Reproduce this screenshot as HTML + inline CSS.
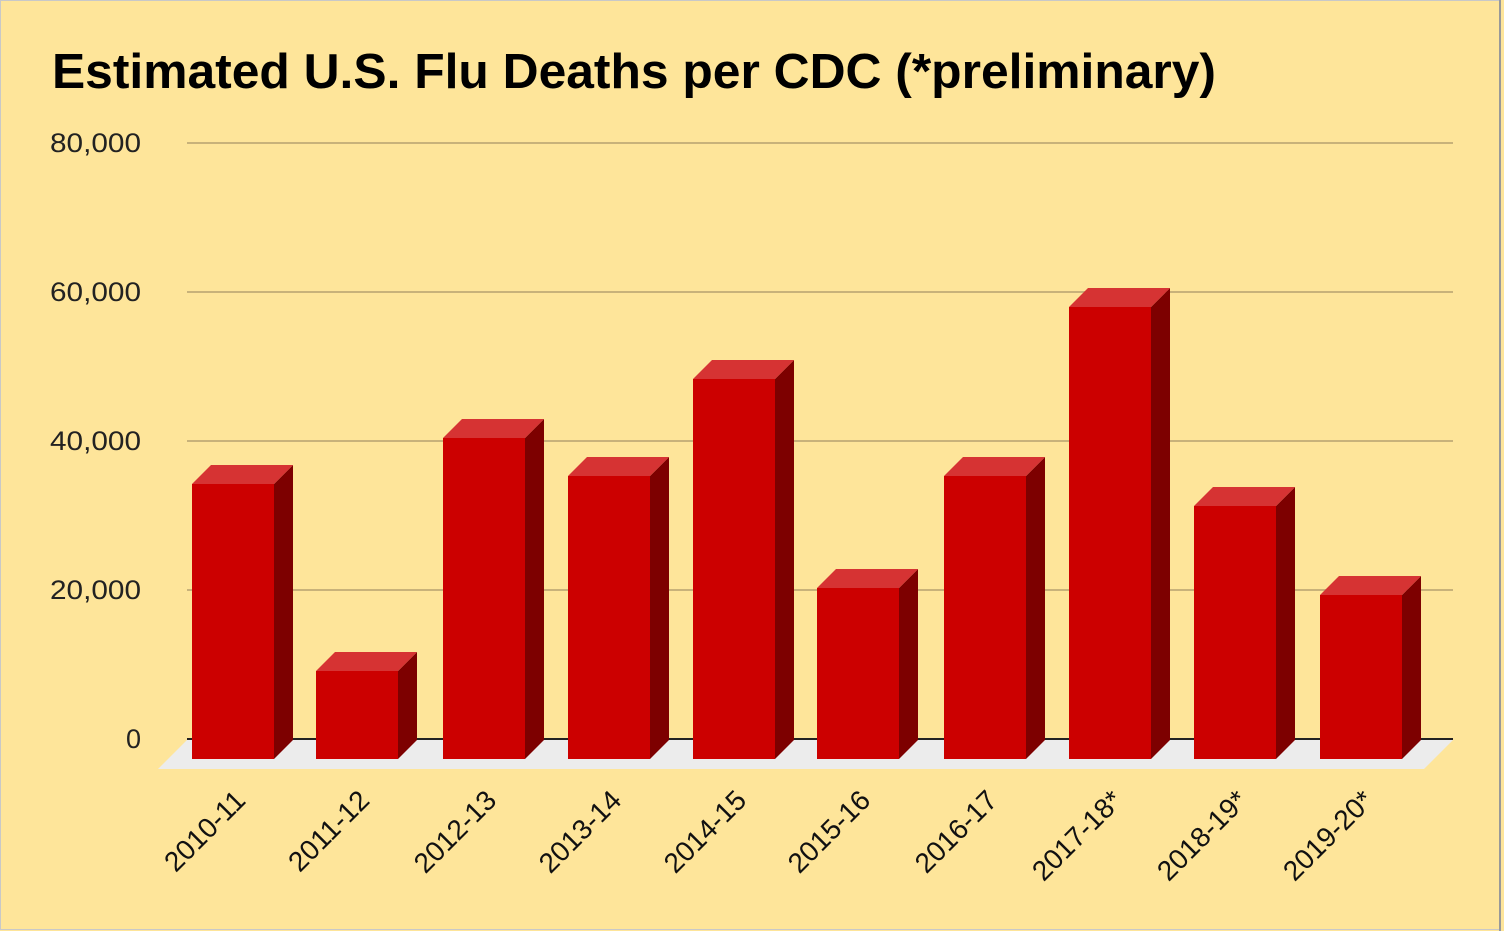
<!DOCTYPE html>
<html><head><style>
body{margin:0;width:1504px;height:931px;overflow:hidden;background:#fff}
</style></head><body>
<svg width="1504" height="931" xmlns="http://www.w3.org/2000/svg" font-family="Liberation Sans, sans-serif">
<rect x="0" y="0" width="1504" height="931" fill="#fee59a"/>
<rect x="0.5" y="0.5" width="1499" height="929" fill="none" stroke="#c8c8c8"/>
<line x1="1500" y1="0" x2="1500" y2="931" stroke="#999" stroke-width="2"/>
<text x="52" y="88" font-weight="bold" fill="#000" textLength="1164" lengthAdjust="spacingAndGlyphs" style="font-size:49px">Estimated U.S. Flu Deaths per CDC (*preliminary)</text>
<g stroke="#c8b27a" stroke-width="2">
<line x1="187" y1="143" x2="1453" y2="143"/>
<line x1="187" y1="292" x2="1453" y2="292"/>
<line x1="187" y1="441" x2="1453" y2="441"/>
<line x1="187" y1="590" x2="1453" y2="590"/>
</g>
<g font-size="27" fill="#222" text-anchor="end">
<text x="141" y="152" textLength="91" lengthAdjust="spacingAndGlyphs">80,000</text>
<text x="141" y="301" textLength="91" lengthAdjust="spacingAndGlyphs">60,000</text>
<text x="141" y="450" textLength="91" lengthAdjust="spacingAndGlyphs">40,000</text>
<text x="141" y="599" textLength="91" lengthAdjust="spacingAndGlyphs">20,000</text>
<text x="141" y="748">0</text>
</g>
<polygon points="187,740 1453,740 1424,769 158,769" fill="#ececec"/>
<line x1="187" y1="739" x2="1453" y2="739" stroke="#222" stroke-width="2"/>
<g id="bars"></g>
<g font-size="28" fill="#111" id="labels"></g>
</svg>
<script>
var xs=[192,316,443,568,693,817,944,1069,1194,1320];
var ts=[484,671,438,476,379,588,476,307,506,595];
var lb=["2010-11","2011-12","2012-13","2013-14","2014-15","2015-16","2016-17","2017-18*","2018-19*","2019-20*"];
var b='',l='',w=82,d=19,bot=759;
for(var i=0;i<10;i++){var x=xs[i],t=ts[i];
b+='<polygon points="'+(x+w)+','+t+' '+(x+w+d)+','+(t-d)+' '+(x+w+d)+','+(bot-d)+' '+(x+w)+','+bot+'" fill="#7d0000"/>';
b+='<polygon points="'+x+','+t+' '+(x+d)+','+(t-d)+' '+(x+w+d)+','+(t-d)+' '+(x+w)+','+t+'" fill="#d63333"/>';
b+='<rect x="'+x+'" y="'+t+'" width="'+w+'" height="'+(bot-t)+'" fill="#cc0000"/>';
var cx=x+w/2+14;
l+='<text text-anchor="end" transform="translate('+cx+',802) rotate(-45)">'+lb[i]+'</text>';}
document.getElementById('bars').innerHTML=b;
document.getElementById('labels').innerHTML=l;
</script>
</body></html>
